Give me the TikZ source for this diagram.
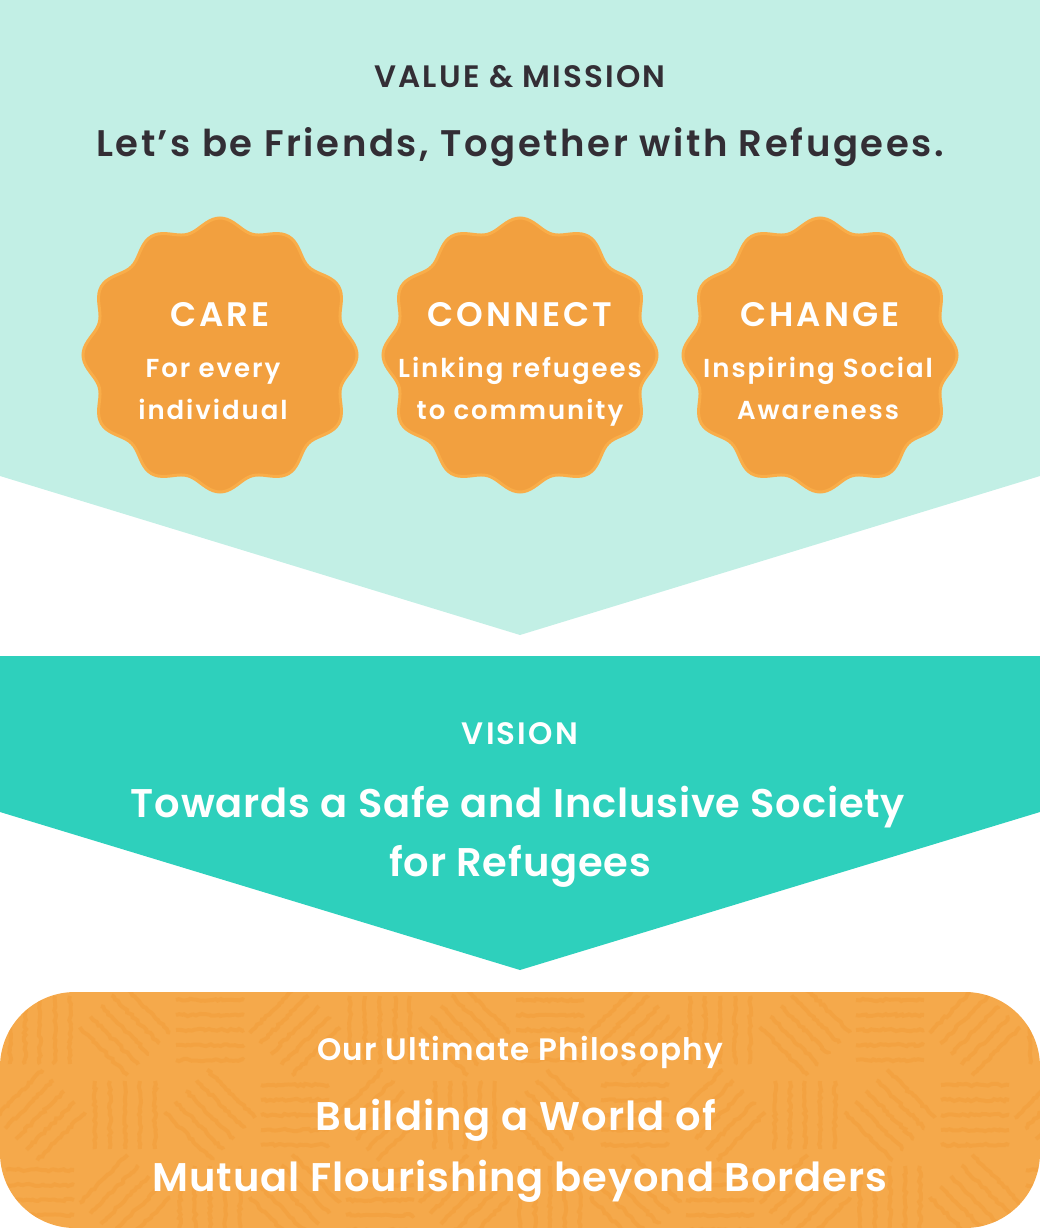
\documentclass[tikz,border=0pt]{standalone}
\usepackage{fontspec}
\setmainfont{Poppins}[BoldFont={* SemiBold}]
\usepackage{tikz}
\usetikzlibrary{positioning, decorations.pathmorphing}
\definecolor{mint}{HTML}{C2EFE5}
\definecolor{teal}{HTML}{2ED0BC}
\definecolor{badgefill}{HTML}{F2A03F}
\definecolor{badgerim}{HTML}{F9AD49}
\definecolor{philo}{HTML}{F5A94B}
\definecolor{weavec}{HTML}{F0952C}
\definecolor{ink}{HTML}{332E35}
\newcommand\tracked[3]{\fontsize{#1}{#2}\bfseries\addfontfeatures{LetterSpace=#3}}
\tikzset{
x=1pt, y=-1pt, % one unit is one pixel of the reference, y runs down
badge/.style={fill=badgefill, draw=badgerim, line width=3pt}, % the wavy seals
weave/.style={draw=weavec, line width=4pt, opacity=.3, decorate, decoration={random steps, segment length=3pt, amplitude=1.2pt}}, % texture of the bottom box
txt/.style={anchor=base, text=white, inner sep=0pt}, % every text line
}

\begin{document}
\begin{tikzpicture}
    \useasboundingbox (0,0) rectangle (1040,1228);
    % value & mission
    \fill[mint] (0,0) -- (1040,0) -- (1040,476) -- (520,635) -- (0,476) -- cycle;
    \node[txt, text=ink, font=\tracked{31}{36}{7}] (mission) at (520,88) {VALUE \& MISSION};
    \node[txt, text=ink, font=\tracked{37}{44}{7}] (motto) at (520,157) {Let’s be Friends, Together with Refugees.};
    \foreach \cx/\dx/\nm/\hd/\la/\lb in {220/-7/care/CARE/For every/individual, 520/0/connect/CONNECT/Linking refugees/to community, 820/-2/change/CHANGE/Inspiring Social/Awareness} {
        \draw[badge] plot[domain=0:360, samples=241, smooth, variable=\t] ({\cx+(131+6*cos(12*\t))*cos(\t)}, {355+(131+6*cos(12*\t))*sin(\t)});
        \node[txt, font=\tracked{34}{40}{9}] (\nm-hd) at (\cx,326) {\hd};
        \node[txt, font=\tracked{26}{30}{7.5}] (\nm-a) at (\cx+\dx,377) {\la};
        \node[txt, font=\tracked{26}{30}{7.5}] (\nm-b) at (\cx+\dx,419) {\lb};
    }
    % vision
    \fill[teal] (0,656) -- (1040,656) -- (1040,812) -- (520,970) -- (0,812) -- cycle;
    \node[txt, font=\tracked{31}{36}{7}] (vision) at (520,744) {VISION};
    \node[txt, font=\tracked{40}{46}{2}] (vision-a) at (518,817) {Towards a Safe and Inclusive Society};
    \node[txt, font=\tracked{40}{46}{2}] (vision-b) at (520,876) {for Refugees};
    % ultimate philosophy
    \fill[philo, rounded corners=75pt] (0,992) rectangle (1040,1228);
    \begin{scope}
        \clip[rounded corners=75pt] (0,992) rectangle (1040,1228);
        \pgfmathsetseed{7}
        \foreach \i in {0,...,12} \foreach \j in {0,1,2} {
            \pgfmathtruncatemacro\k{mod(\i*5+\j*3,4)}
            \begin{scope}[shift={(\i*85+40,\j*85+1030)}, rotate=\k*45]
                \foreach \s in {-30,-15,...,30} \draw[weave] (\s,-34) -- (\s,34);
            \end{scope}
        }
    \end{scope}
    \node[txt, font=\tracked{31}{36}{4}] (philo) at (520,1060) {Our Ultimate Philosophy};
    \node[txt, font=\tracked{40}{46}{3}] (philo-a) at (516,1130) {Building a World of};
    \node[txt, font=\tracked{40}{46}{2.3}] (philo-b) at (520,1191) {Mutual Flourishing beyond Borders};
\end{tikzpicture}
\end{document}
